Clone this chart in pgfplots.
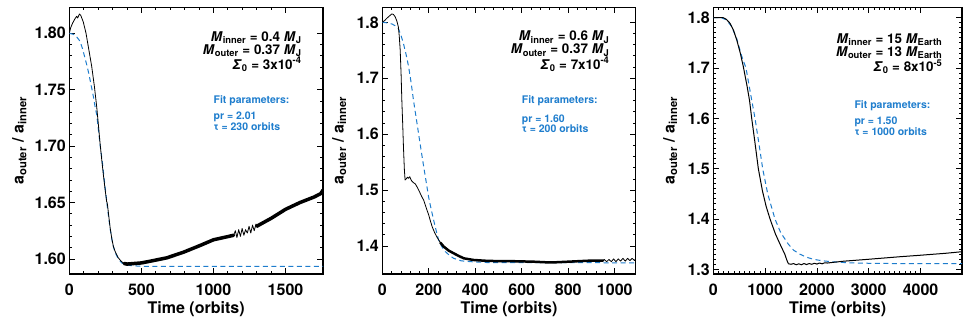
\documentclass[border=0pt]{standalone}
\usepackage{fontspec}
\setmainfont{TeX Gyre Heros}
\usepackage{pgfplots}
\pgfplotsset{compat=1.18}
\definecolor{fitblue}{RGB}{30,125,205}
\pgfplotsset{
 panel/.style={
  scale only axis, anchor=south west, height=266.7pt,
  axis line style={line width=1.1pt},
  tick style={line width=0.8pt, black},
  major tick length=6pt, minor tick length=3pt,
  tick align=inside,
  tick label style={font=\fontsize{16}{16}\selectfont\bfseries},
  label style={font=\fontsize{16}{16}\selectfont\bfseries},
  /pgf/number format/assume math mode=true,
  /pgf/number format/1000 sep={},
  xticklabel style={anchor=base, yshift=-22pt},
  xlabel={Time (orbits)},
  xlabel style={at={(rel axis cs:0.5,0)}, anchor=base, yshift=-39.5pt},
  ylabel={a\textsubscript{outer} / a\textsubscript{inner}},
  xmin=0, clip=true,
 },
 sim/.style={black, line width=0.8pt, line join=round},
 simthick/.style={black, line width=3.5pt, line join=round, line cap=round},
 fit/.style={fitblue, line width=1pt, dash pattern=on 5pt off 3.5pt},
}
\tikzset{
 ann/.style={font=\fontsize{13.4}{13}\selectfont\bfseries, anchor=north east, inner sep=0pt, align=right},
 fitann/.style={font=\fontsize{10.5}{11}\selectfont\bfseries, text=fitblue, anchor=base west, inner sep=0pt},
 fitann2/.style={font=\fontsize{10.5}{10.8}\selectfont\bfseries, text=fitblue, anchor=north west, inner sep=0pt, align=left},
}
\begin{document}
\begin{tikzpicture}
\path[use as bounding box] (0,0) rectangle (963pt,323pt);
% ---------------- Panel 1
\begin{axis}[panel, at={(69.3pt,49pt)}, width=253.7pt,
  xmax=1760, ymin=1.5867, ymax=1.823,
  xtick={0,500,1000,1500}, minor x tick num=4,
  ytick={1.60,1.65,1.70,1.75,1.80}, minor y tick num=4,
  yticklabel style={/pgf/number format/.cd, fixed, fixed zerofill, precision=2},
  ylabel style={at={(axis description cs:-0.197,0.5)}, anchor=center}]
\addplot[fit] coordinates {(0,1.800) (30,1.799) (50,1.797) (74,1.793) (90,1.787) (109,1.778) (125,1.770) (139,1.762) (153,1.753) (167,1.744) (180,1.734) (190,1.728) (213,1.702) (230,1.685) (248,1.664) (265,1.645) (283,1.627) (300,1.614) (317,1.606) (340,1.600) (364,1.5965) (400,1.5945) (444,1.594) (500,1.5935) (1760,1.5935)};
\addplot[sim] coordinates {(0,1.800) (10,1.805) (23,1.809) (40,1.813) (51,1.815) (58,1.8135) (70,1.817) (79,1.816) (97,1.810) (116,1.800) (132,1.788) (155,1.771) (174,1.753) (190,1.735) (201,1.720) (213,1.703) (225,1.688) (236,1.675) (248,1.662) (259,1.651) (262,1.650) (266,1.647) (272,1.640) (283,1.628) (295,1.618) (306,1.611) (320,1.606) (340,1.601) (360,1.598) (380,1.596)};
\addplot[simthick] coordinates {(380,1.596) (400,1.5955) (450,1.596) (500,1.5965) (560,1.598) (676,1.601) (792,1.606) (908,1.612) (1000,1.617) (1070,1.619) (1140,1.621)};
\addplot[sim] coordinates {(1140,1.621) (1152,1.625) (1163,1.619) (1175,1.626) (1187,1.620) (1199,1.627) (1211,1.621) (1223,1.626) (1235,1.623) (1247,1.629) (1259,1.623) (1271,1.630) (1283,1.625) (1295,1.631) (1307,1.628)};
\addplot[simthick] coordinates {(1300,1.629) (1400,1.636) (1500,1.644) (1600,1.650) (1700,1.655) (1745,1.658) (1760,1.661)};
\node[ann] at (rel axis cs:0.916,0.911) {\textit{M}\textsubscript{inner} = 0.4 \textit{M}\textsubscript{J}\\\textit{M}\textsubscript{outer} = 0.37 \textit{M}\textsubscript{J}\\\textit{Σ}\textsubscript{0} = 3x10\textsuperscript{-4}};
\node[fitann] at (rel axis cs:0.568,0.640) {Fit parameters:};
\node[fitann2] at (rel axis cs:0.568,0.609) {pr = 2.01\\τ = 230 orbits};
\end{axis}
% ---------------- Panel 2
\begin{axis}[panel, at={(382.3pt,49pt)}, width=253.4pt,
  xmax=1090, ymin=1.350, ymax=1.8268,
  xtick={0,200,400,600,800,1000}, minor x tick num=4,
  ytick={1.4,1.5,1.6,1.7,1.8}, minor y tick num=4,
  yticklabel style={/pgf/number format/.cd, fixed, fixed zerofill, precision=1},
  ylabel style={at={(axis description cs:-0.170,0.5)}, anchor=center}]
\addplot[fit] coordinates {(0,1.800) (20,1.799) (41,1.797) (55,1.794) (69,1.789) (80,1.777) (91,1.762) (102,1.743) (113,1.721) (124,1.692) (134,1.661) (145,1.631) (156,1.601) (167,1.571) (178,1.542) (189,1.514) (199,1.488) (210,1.466) (221,1.446) (232,1.427) (242,1.411) (256,1.399) (271,1.390) (290,1.383) (307,1.378) (340,1.3735) (380,1.372) (450,1.3705) (1090,1.3700)};
\addplot[sim] coordinates {(0,1.800) (10,1.803) (19,1.807) (30,1.811) (41,1.815) (48,1.814) (55,1.810) (62,1.803) (69,1.792) (73,1.775) (77,1.750) (81,1.705) (84,1.661) (88,1.615) (91,1.577) (95,1.536) (98,1.518) (103,1.520) (108,1.523) (113,1.521) (118,1.524) (123,1.519) (127,1.516) (135,1.513) (142,1.511) (149,1.506) (160,1.497) (170,1.488) (178,1.482) (190,1.467) (200,1.455) (206,1.446) (215,1.434) (225,1.424) (235,1.416) (250,1.406) (264,1.399) (285,1.392) (307,1.387) (330,1.382) (351,1.378) (394,1.375)};
\addplot[black, line width=2.5pt, line join=round, line cap=round] coordinates {(250,1.406) (264,1.399) (285,1.392) (307,1.387) (330,1.382) (351,1.378) (394,1.375) (450,1.3735) (500,1.373) (550,1.373) (600,1.3725) (650,1.372) (700,1.371) (750,1.371) (800,1.372) (850,1.373) (900,1.374) (950,1.374)};
\addplot[sim] coordinates {(950,1.374) (955,1.376) (965,1.372) (975,1.376) (985,1.372) (995,1.377) (1005,1.372) (1015,1.377) (1025,1.373) (1035,1.378) (1045,1.373) (1055,1.378) (1065,1.374) (1075,1.378) (1085,1.374) (1090,1.377)};
\node[ann] at (rel axis cs:0.897,0.911) {\textit{M}\textsubscript{inner} = 0.6 \textit{M}\textsubscript{J}\\\textit{M}\textsubscript{outer} = 0.37 \textit{M}\textsubscript{J}\\\textit{Σ}\textsubscript{0} = 7x10\textsuperscript{-4}};
\node[fitann] at (rel axis cs:0.550,0.640) {Fit parameters:};
\node[fitann2] at (rel axis cs:0.550,0.599) {pr = 1.60\\τ = 200 orbits};
\end{axis}
% ---------------- Panel 3
\begin{axis}[panel, at={(713.3pt,49pt)}, width=248.7pt,
  xmax=4800, ymin=1.2907, ymax=1.8207,
  xtick={0,1000,2000,3000,4000}, minor x tick num=9,
  ytick={1.3,1.4,1.5,1.6,1.7,1.8}, minor y tick num=9,
  yticklabel style={/pgf/number format/.cd, fixed, fixed zerofill, precision=1},
  ylabel style={at={(axis description cs:-0.173,0.5)}, anchor=center}]
\addplot[fit] coordinates {(0,1.800) (150,1.800) (250,1.796) (350,1.783) (450,1.759) (550,1.723) (631,1.700) (700,1.660) (805,1.600) (880,1.550) (953,1.500) (1050,1.450) (1190,1.400) (1300,1.373) (1448,1.350) (1550,1.338) (1673,1.330) (1800,1.324) (1931,1.320) (2100,1.317) (2300,1.315) (2600,1.313) (3000,1.312) (3500,1.3115) (4800,1.3115)};
\addplot[black, line width=1pt, line join=round] coordinates {(0,1.800) (193,1.800) (250,1.797) (322,1.789) (390,1.775) (452,1.756) (520,1.730) (579,1.703) (650,1.665) (700,1.635) (741,1.600) (800,1.555) (869,1.500) (950,1.455) (1020,1.425) (1095,1.400) (1200,1.370) (1288,1.350) (1380,1.330) (1420,1.318) (1450,1.311) (1500,1.310) (1550,1.3115) (1600,1.309) (1650,1.311) (1700,1.309) (1750,1.3115) (1800,1.3095) (1850,1.3115) (1900,1.310) (1950,1.312) (2000,1.3105) (2050,1.3125) (2100,1.311) (2150,1.313) (2200,1.3125) (2500,1.316) (3000,1.320) (3600,1.325) (4000,1.328) (4500,1.332) (4800,1.335)};
\node[ann] at (rel axis cs:0.922,0.901) {\textit{M}\textsubscript{inner} = 15 \textit{M}\textsubscript{Earth}\\\textit{M}\textsubscript{outer} = 13 \textit{M}\textsubscript{Earth}\\\textit{Σ}\textsubscript{0} = 8x10\textsuperscript{-5}};
\node[fitann] at (rel axis cs:0.567,0.621) {Fit parameters:};
\node[fitann2] at (rel axis cs:0.567,0.590) {pr = 1.50\\τ = 1000 orbits};
\end{axis}
\end{tikzpicture}
\end{document}
